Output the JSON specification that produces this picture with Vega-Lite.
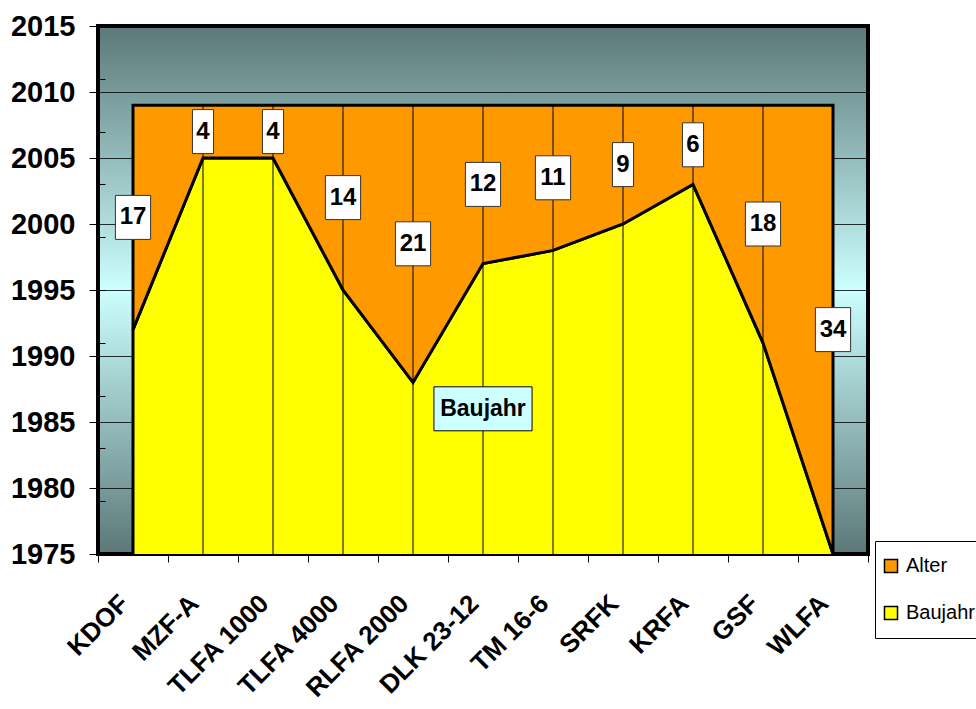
{
  "$schema": "https://vega.github.io/schema/vega-lite/v6.json",
  "width": 770,
  "height": 528,
  "autosize": "none",
  "padding": {"left": 98, "top": 26, "right": 108, "bottom": 155},
  "background": "white",
  "config": {
    "font": "Liberation Sans",
    "view": {
      "stroke": "black",
      "strokeWidth": 4,
      "fill": {
        "gradient": "linear",
        "x1": 0, "y1": 0, "x2": 0, "y2": 1,
        "stops": [
          {"offset": 0, "color": "#5c7878"},
          {"offset": 0.5, "color": "#ccffff"},
          {"offset": 1, "color": "#5c7878"}
        ]
      }
    }
  },
  "datasets": {
    "fahrzeuge": [
      {"Fahrzeug": "KDOF", "Serie": "Baujahr", "Wert": 1992},
      {"Fahrzeug": "KDOF", "Serie": "Alter", "Wert": 17},
      {"Fahrzeug": "MZF-A", "Serie": "Baujahr", "Wert": 2005},
      {"Fahrzeug": "MZF-A", "Serie": "Alter", "Wert": 4},
      {"Fahrzeug": "TLFA 1000", "Serie": "Baujahr", "Wert": 2005},
      {"Fahrzeug": "TLFA 1000", "Serie": "Alter", "Wert": 4},
      {"Fahrzeug": "TLFA 4000", "Serie": "Baujahr", "Wert": 1995},
      {"Fahrzeug": "TLFA 4000", "Serie": "Alter", "Wert": 14},
      {"Fahrzeug": "RLFA 2000", "Serie": "Baujahr", "Wert": 1988},
      {"Fahrzeug": "RLFA 2000", "Serie": "Alter", "Wert": 21},
      {"Fahrzeug": "DLK 23-12", "Serie": "Baujahr", "Wert": 1997},
      {"Fahrzeug": "DLK 23-12", "Serie": "Alter", "Wert": 12},
      {"Fahrzeug": "TM 16-6", "Serie": "Baujahr", "Wert": 1998},
      {"Fahrzeug": "TM 16-6", "Serie": "Alter", "Wert": 11},
      {"Fahrzeug": "SRFK", "Serie": "Baujahr", "Wert": 2000},
      {"Fahrzeug": "SRFK", "Serie": "Alter", "Wert": 9},
      {"Fahrzeug": "KRFA", "Serie": "Baujahr", "Wert": 2003},
      {"Fahrzeug": "KRFA", "Serie": "Alter", "Wert": 6},
      {"Fahrzeug": "GSF", "Serie": "Baujahr", "Wert": 1991},
      {"Fahrzeug": "GSF", "Serie": "Alter", "Wert": 18},
      {"Fahrzeug": "WLFA", "Serie": "Baujahr", "Wert": 1975},
      {"Fahrzeug": "WLFA", "Serie": "Alter", "Wert": 34}
    ]
  },
  "layer": [
    {
      "data": {"name": "fahrzeuge"},
      "transform": [
        {"stack": "Wert", "groupby": ["Fahrzeug"], "sort": [{"field": "Serie", "order": "descending"}], "as": ["unten", "oben"]}
      ],
      "layer": [
        {
          "mark": {"type": "area", "clip": true, "stroke": "black", "strokeWidth": 3, "opacity": 1, "fillOpacity": 1},
          "encoding": {
            "x": {
              "field": "Fahrzeug", "type": "nominal", "bandPosition": 0.5,
              "scale": {"type": "band", "paddingInner": 0, "paddingOuter": 0,
                "domain": ["KDOF", "MZF-A", "TLFA 1000", "TLFA 4000", "RLFA 2000", "DLK 23-12", "TM 16-6", "SRFK", "KRFA", "GSF", "WLFA"]},
              "axis": {
                "title": null, "domain": false, "grid": false,
                "tickBand": "extent", "tickSize": 8, "tickColor": "black", "tickWidth": 1,
                "labelAngle": -45, "labelAlign": "right", "labelBaseline": "middle",
                "labelFontSize": 26, "labelFontWeight": "bold", "labelColor": "black",
                "labelPadding": 37, "labelOffset": -9, "labelOverlap": false, "labelLimit": 300
              }
            },
            "y": {
              "field": "oben", "type": "quantitative",
              "scale": {"domain": [1975, 2015], "nice": false, "zero": false},
              "axis": {
                "title": null, "domain": false,
                "values": [1975, 1980, 1985, 1990, 1995, 2000, 2005, 2010, 2015],
                "format": "d", "tickSize": 9, "tickColor": "black", "tickWidth": 1,
                "labelFontSize": 29, "labelFontWeight": "bold", "labelColor": "black", "labelPadding": 14,
                "grid": true, "gridColor": "black", "gridWidth": 1, "gridOpacity": 0.8
              }
            },
            "y2": {"field": "unten"},
            "color": {
              "field": "Serie", "type": "nominal",
              "scale": {"domain": ["Alter", "Baujahr"], "range": ["#ff9900", "#ffff00"]},
              "legend": {
                "title": null, "orient": "none", "legendX": 777, "legendY": 515,
                "symbolType": "square", "symbolSize": 170, "symbolStrokeColor": "black", "symbolStrokeWidth": 1.5,
                "symbolFillOpacity": 1, "symbolOpacity": 1,
                "labelFontSize": 20, "labelColor": "black", "labelOffset": 5, "labelLimit": 200,
                "fillColor": "white", "strokeColor": "black", "padding": 6, "clipHeight": 38, "rowPadding": 9
              }
            }
          }
        },
        {
          "transform": [{"filter": "datum.Serie === 'Alter'"}],
          "mark": {"type": "rule", "color": "black", "strokeWidth": 1},
          "encoding": {
            "x": {"field": "Fahrzeug", "type": "nominal", "bandPosition": 0.5},
            "y": {"field": "oben", "type": "quantitative"},
            "y2": {"datum": 1975}
          }
        },
        {
          "transform": [
            {"filter": "datum.Serie === 'Alter'"},
            {"fold": ["unten", "oben"], "as": ["Grenze", "Pos"]},
            {"aggregate": [{"op": "mean", "field": "Pos", "as": "Mitte"}], "groupby": ["Fahrzeug", "Wert"]}
          ],
          "layer": [
            {
              "mark": {"type": "point", "filled": true, "fill": "white", "stroke": "#333333", "strokeWidth": 1, "opacity": 1, "size": 1936},
              "encoding": {
                "x": {"field": "Fahrzeug", "type": "nominal", "bandPosition": 0.5},
                "y": {"field": "Mitte", "type": "quantitative"},
                "shape": {
                  "condition": {"test": "datum.Wert < 10", "value": "M-0.48,-1H0.48V1H-0.48Z"},
                  "value": "M-0.8,-1H0.8V1H-0.8Z"
                }
              }
            },
            {
              "mark": {"type": "text", "fontSize": 24, "fontWeight": "bold", "color": "black", "baseline": "middle", "align": "center"},
              "encoding": {
                "x": {"field": "Fahrzeug", "type": "nominal", "bandPosition": 0.5},
                "y": {"field": "Mitte", "type": "quantitative"},
                "text": {"field": "Wert", "type": "quantitative"}
              }
            }
          ]
        }
      ]
    },
    {
      "data": {"values": [{"Serie": "Baujahr"}]},
      "layer": [
        {
          "mark": {"type": "point", "filled": true, "fill": "#ccffff", "stroke": "black", "strokeWidth": 1, "opacity": 1, "size": 1936,
            "shape": "M-2.23,-1H2.23V1H-2.23Z"},
          "encoding": {
            "x": {"datum": "DLK 23-12", "type": "nominal", "bandPosition": 0.5},
            "y": {
              "datum": 1986, "type": "quantitative",
              "axis": {
                "title": null, "orient": "left", "domain": false, "labels": false, "grid": false,
                "values": [1975, 1976, 1977, 1978, 1979, 1980, 1981, 1982, 1983, 1984, 1985, 1986, 1987, 1988, 1989, 1990, 1991, 1992, 1993, 1994, 1995, 1996, 1997, 1998, 1999, 2000, 2001, 2002, 2003, 2004, 2005, 2006, 2007, 2008, 2009, 2010, 2011, 2012, 2013, 2014, 2015],
                "tickSize": -7, "tickColor": "black", "tickWidth": 1
              }
            }
          }
        },
        {
          "mark": {"type": "text", "fontSize": 23, "fontWeight": "bold", "color": "black", "baseline": "middle", "align": "center"},
          "encoding": {
            "x": {"datum": "DLK 23-12", "type": "nominal", "bandPosition": 0.5},
            "y": {"datum": 1986, "type": "quantitative"},
            "text": {"field": "Serie", "type": "nominal"}
          }
        }
      ]
    }
  ],
  "resolve": {"axis": {"y": "independent"}}
}
